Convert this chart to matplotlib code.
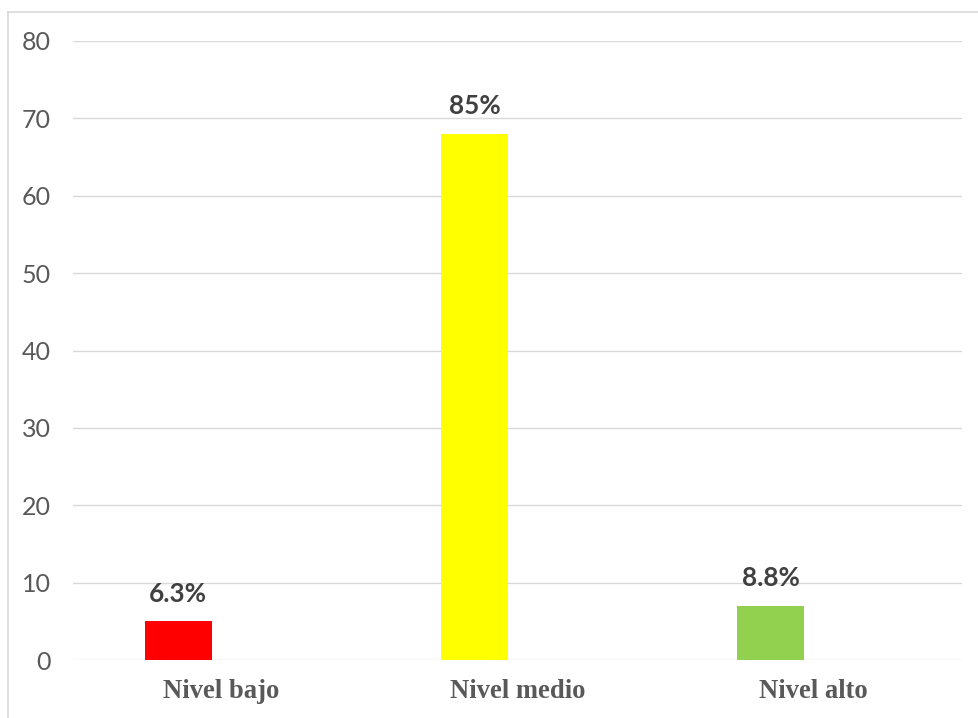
import matplotlib.pyplot as plt
from matplotlib.lines import Line2D

categorias = ["Nivel bajo", "Nivel medio", "Nivel alto"]
valores = [5, 68, 7]
etiquetas = ["6.3%", "85%", "8.8%"]
colores = ["#ff0000", "#ffff00", "#92d050"]

fig = plt.figure(figsize=(9.79, 7.18), dpi=100)
ax = fig.add_axes([73 / 979, 1 - 660 / 718, (962 - 73) / 979, (660 - 41) / 718])

# barras desplazadas a la izquierda del centro de cada categoria
pos = [i - 0.145 for i in range(len(categorias))]
barras = ax.bar(pos, valores, width=0.226, color=colores, zorder=3)

for b, txt in zip(barras, etiquetas):
    ax.annotate(txt, (b.get_x() + b.get_width() / 2, b.get_height()),
                xytext=(0, 20), textcoords="offset points",
                ha="center", va="center", fontsize=18.8,
                fontweight="bold", family="Lato", color="#404040")

ax.set_xlim(-0.5, 2.5)
ax.set_ylim(0, 80)
ax.set_yticks(range(0, 81, 10))
ax.set_xticks(range(len(categorias)))
ax.set_xticklabels(categorias, family="Liberation Serif", fontweight="bold",
                   fontsize=19.2, color="#595959")
ax.tick_params(axis="x", length=0, pad=14)
ax.tick_params(axis="y", length=0, pad=16, labelsize=18, labelcolor="#595959")
for lab in ax.get_yticklabels():
    lab.set_family("Lato")

ax.grid(axis="y", color="#d9d9d9", linewidth=1.0, zorder=0)
for s in ax.spines.values():
    s.set_visible(False)

# marco del grafico
fig.add_artist(Line2D([8.5 / 979, 8.5 / 979], [1 - 11.5 / 718, 0],
                      color="#d9d9d9", linewidth=1.2))
fig.add_artist(Line2D([8.5 / 979, 1], [1 - 11.5 / 718, 1 - 11.5 / 718],
                      color="#d9d9d9", linewidth=1.2))

fig.savefig("out.png", dpi=100)
